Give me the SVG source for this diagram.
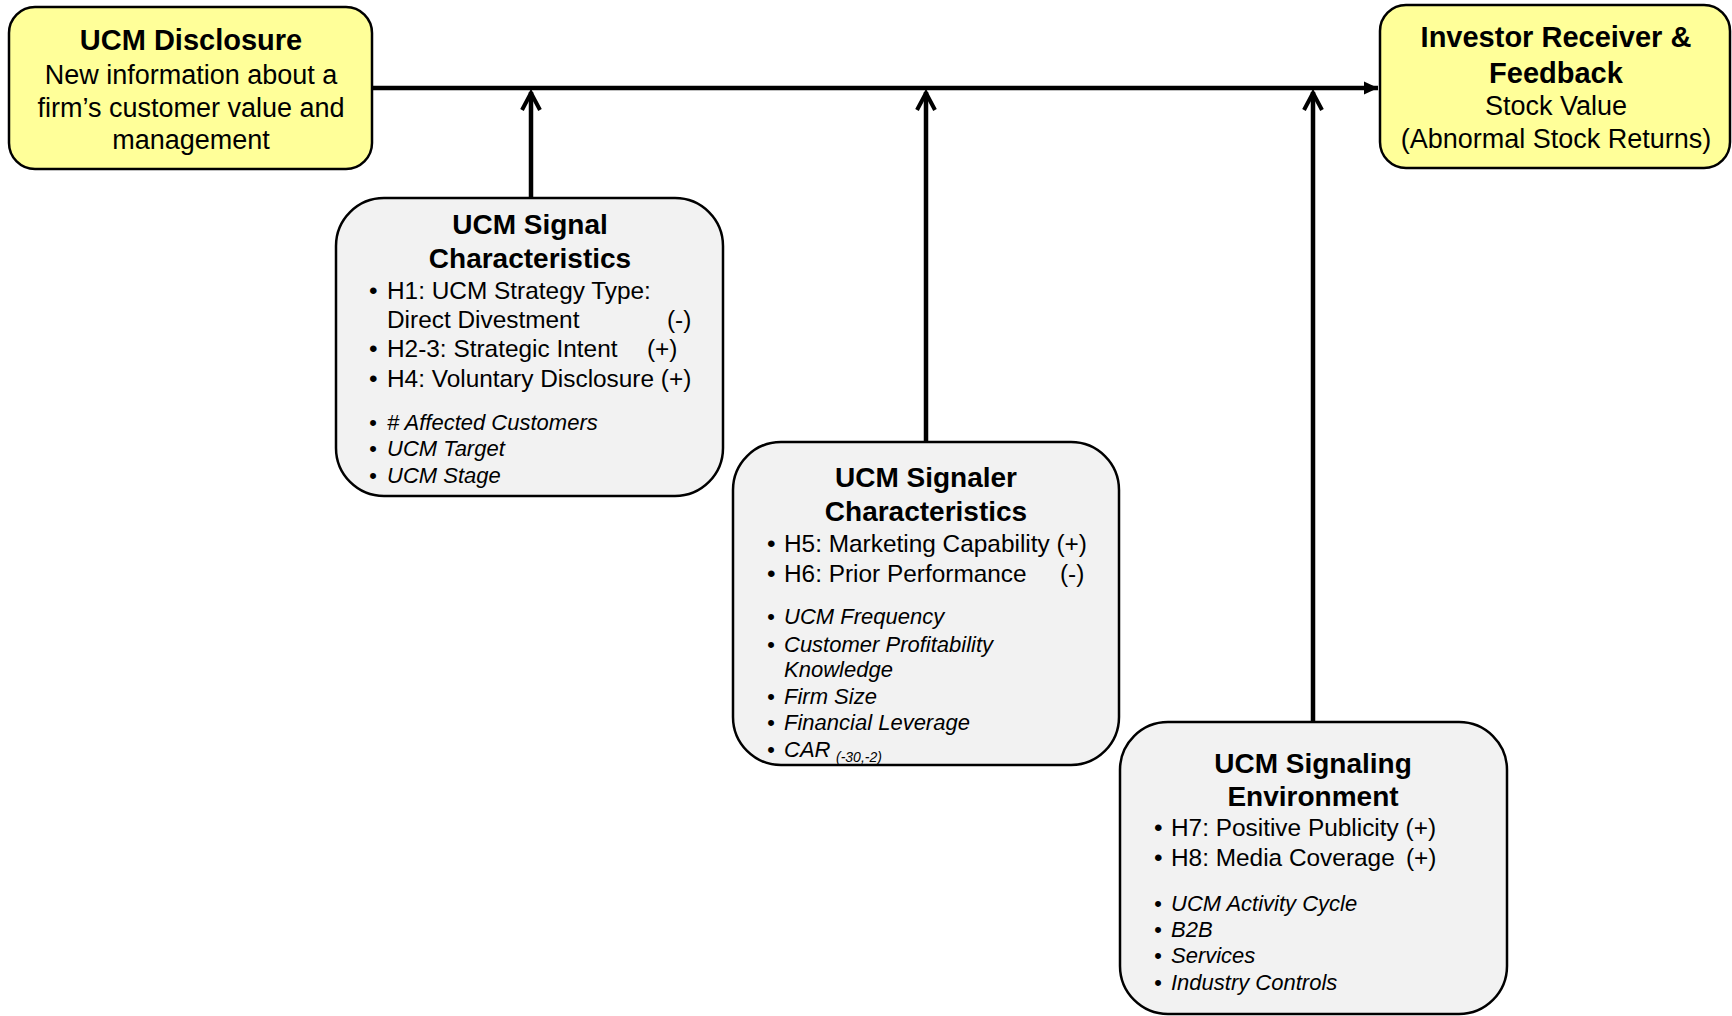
<svg xmlns="http://www.w3.org/2000/svg" width="1732" height="1016" viewBox="0 0 1732 1016">
<style>
.yl{fill:#FFFF99;stroke:#000;stroke-width:2.5}
.gr{fill:#F2F2F2;stroke:#000;stroke-width:2.5}
text{font-family:"Liberation Sans",Arial,sans-serif;fill:#000}
.t{font-size:29px;font-weight:bold;text-anchor:middle}
.tg{font-size:28px;font-weight:bold;text-anchor:middle}
.b{font-size:27px;text-anchor:middle}
.h{font-size:24.4px}
.i{font-size:22px;font-style:italic}
.s{font-size:14px;font-style:italic}
.c{fill:none;stroke:#000;stroke-width:4.5}
</style>
<defs>
<marker id="open" viewBox="0 0 22 22" refX="19" refY="11" markerWidth="22" markerHeight="22" markerUnits="userSpaceOnUse" orient="auto">
<path d="M1,2 L18,11 L1,20" fill="none" stroke="#000" stroke-width="4"/>
</marker>
<marker id="fill" viewBox="0 0 16 16" refX="15" refY="8" markerWidth="16" markerHeight="16" markerUnits="userSpaceOnUse" orient="auto">
<path d="M1,1.5 L15,8 L1,14.5 Z" fill="#000"/>
</marker>
</defs>
<g id="connectors">
<line class="c" x1="372" y1="88" x2="1378" y2="88" marker-end="url(#fill)"/>
<path class="c" d="M531,198 L531,92" marker-end="url(#open)"/>
<path class="c" d="M926,442 L926,92" marker-end="url(#open)"/>
<path class="c" d="M1313,722 L1313,92" marker-end="url(#open)"/>
</g>
<g id="ucm-disclosure">
<rect class="yl" x="9" y="7" width="363" height="162" rx="26"/>
<text class="t" x="191" y="50">UCM Disclosure</text>
<text class="b" x="191" y="84">New information about a</text>
<text class="b" x="191" y="117">firm’s customer value and</text>
<text class="b" x="191" y="149">management</text>
</g>
<g id="investor-receiver">
<rect class="yl" x="1380" y="5" width="350" height="163" rx="26"/>
<text class="t" x="1556" y="47">Investor Receiver &amp;</text>
<text class="t" x="1556" y="83">Feedback</text>
<text class="b" x="1556" y="115">Stock Value</text>
<text class="b" x="1556" y="148">(Abnormal Stock Returns)</text>
</g>
<g id="signal-characteristics">
<rect class="gr" x="336" y="198" width="387" height="298" rx="48"/>
<text class="tg" x="530" y="234">UCM Signal</text>
<text class="tg" x="530" y="268">Characteristics</text>
<text class="h" x="369" y="299">•</text><text class="h" x="387" y="299">H1: UCM Strategy Type:</text>
<text class="h" x="387" y="328">Direct Divestment</text><text class="h" x="667" y="328">(-)</text>
<text class="h" x="369" y="357">•</text><text class="h" x="387" y="357">H2-3: Strategic Intent</text><text class="h" x="647" y="357">(+)</text>
<text class="h" x="369" y="387">•</text><text class="h" x="387" y="387">H4: Voluntary Disclosure (+)</text>
<text class="i" x="369" y="430">•</text><text class="i" x="387" y="430"># Affected Customers</text>
<text class="i" x="369" y="456">•</text><text class="i" x="387" y="456">UCM Target</text>
<text class="i" x="369" y="483">•</text><text class="i" x="387" y="483">UCM Stage</text>
</g>
<g id="signaler-characteristics">
<rect class="gr" x="733" y="442" width="386" height="323" rx="48"/>
<text class="tg" x="926" y="487">UCM Signaler</text>
<text class="tg" x="926" y="521">Characteristics</text>
<text class="h" x="767" y="552">•</text><text class="h" x="784" y="552">H5: Marketing Capability (+)</text>
<text class="h" x="767" y="582">•</text><text class="h" x="784" y="582">H6: Prior Performance</text><text class="h" x="1060" y="582">(-)</text>
<text class="i" x="767" y="624">•</text><text class="i" x="784" y="624">UCM Frequency</text>
<text class="i" x="767" y="652">•</text><text class="i" x="784" y="652">Customer Profitability</text>
<text class="i" x="784" y="677">Knowledge</text>
<text class="i" x="767" y="704">•</text><text class="i" x="784" y="704">Firm Size</text>
<text class="i" x="767" y="730">•</text><text class="i" x="784" y="730">Financial Leverage</text>
<text class="i" x="767" y="757">•</text><text class="i" x="784" y="757">CAR</text><text class="s" x="836" y="762">(-30,-2)</text>
</g>
<g id="signaling-environment">
<rect class="gr" x="1120" y="722" width="387" height="292" rx="48"/>
<text class="tg" x="1313" y="773">UCM Signaling</text>
<text class="tg" x="1313" y="806">Environment</text>
<text class="h" x="1154" y="836">•</text><text class="h" x="1171" y="836">H7: Positive Publicity (+)</text>
<text class="h" x="1154" y="866">•</text><text class="h" x="1171" y="866">H8: Media Coverage</text><text class="h" x="1406" y="866">(+)</text>
<text class="i" x="1154" y="911">•</text><text class="i" x="1171" y="911">UCM Activity Cycle</text>
<text class="i" x="1154" y="937">•</text><text class="i" x="1171" y="937">B2B</text>
<text class="i" x="1154" y="963">•</text><text class="i" x="1171" y="963">Services</text>
<text class="i" x="1154" y="990">•</text><text class="i" x="1171" y="990">Industry Controls</text>
</g>
</svg>
